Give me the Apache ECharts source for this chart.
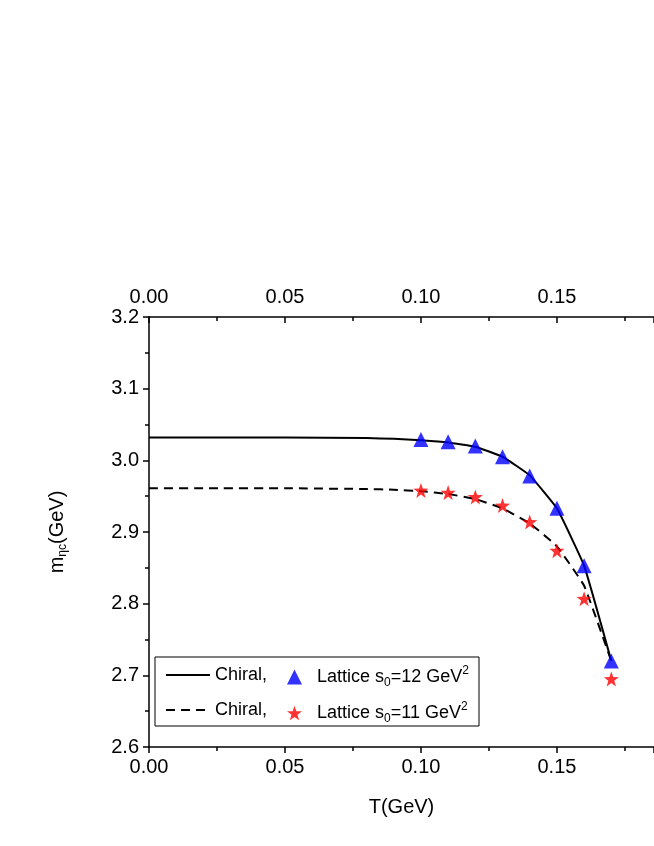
<!DOCTYPE html>
<html>
<head>
<meta charset="utf-8">
<script src="https://cdn.jsdelivr.net/npm/echarts@6/dist/echarts.min.js"></script>
<style>html,body{margin:0;padding:0;background:#fff}#chart{width:654px;height:846px}</style>
</head>
<body>
<div id="chart"></div>
<script>
let chiralT = [0, 0.02, 0.05, 0.08, 0.09, 0.10, 0.11, 0.12, 0.13, 0.14, 0.15, 0.16, 0.17];
let chiral12 = [3.032, 3.032, 3.032, 3.031, 3.030, 3.028, 3.025, 3.019, 3.005, 2.979, 2.933, 2.853, 2.720];
let chiral11 = [2.961, 2.961, 2.961, 2.960, 2.959, 2.957, 2.953, 2.946, 2.933, 2.912, 2.880, 2.825, 2.720];
let latticeT = [0.10, 0.11, 0.12, 0.13, 0.14, 0.15, 0.16, 0.17];
let lattice12 = [3.029, 3.026, 3.020, 3.005, 2.978, 2.933, 2.853, 2.720];
let lattice11 = [2.958, 2.955, 2.949, 2.937, 2.914, 2.874, 2.807, 2.695];

function pairs(xs, ys) {
    return xs.map(function (x, i) { return [x, ys[i]]; });
}

let font = 'Liberation Sans';
let rich = {
    sub: { fontSize: 12, verticalAlign: 'bottom', padding: [12, 0, 0, 0], fontFamily: font },
    sup: { fontSize: 12, verticalAlign: 'top', padding: [0, 0, 10, 0], fontFamily: font }
};

function xAxis(pos) {
    return {
        type: 'value', position: pos, min: 0, max: 0.1857, interval: 0.05,
        axisLine: { onZero: false, lineStyle: { color: '#000', width: 1.5 } },
        axisTick: { inside: pos === 'top', length: 6, lineStyle: { color: '#000', width: 1.5 } },
        minorTick: { show: true, splitNumber: 2, length: 4, lineStyle: { color: '#000', width: 1.5 } },
        axisLabel: {
            color: '#000', fontSize: 20, fontFamily: font, margin: 10, showMaxLabel: false,
            formatter: function (v) { return v.toFixed(2); }
        },
        splitLine: { show: false }
    };
}

let chart = echarts.init(document.getElementById('chart'));
let option = {
    animation: false,
    grid: { left: 149, right: 0, top: 317, bottom: 99 },
    xAxis: [
        Object.assign(xAxis('bottom'), {
            name: 'T(GeV)', nameLocation: 'middle', nameGap: 50,
            nameTextStyle: { color: '#000', fontSize: 20, fontFamily: font }
        }),
        xAxis('top')
    ],
    yAxis: {
        type: 'value', min: 2.6, max: 3.2, interval: 0.1,
        name: 'm{sub|ηc}(GeV)', nameLocation: 'middle', nameGap: 80, nameRotate: 90,
        nameTextStyle: { color: '#000', fontSize: 20, fontFamily: font, rich: rich },
        axisLine: { lineStyle: { color: '#000', width: 1.5 } },
        axisTick: { length: 6, lineStyle: { color: '#000', width: 1.5 } },
        minorTick: { show: true, splitNumber: 2, length: 4, lineStyle: { color: '#000', width: 1.5 } },
        axisLabel: {
            color: '#000', fontSize: 20, fontFamily: font, margin: 10,
            formatter: function (v) { return v.toFixed(1); }
        },
        splitLine: { show: false }
    },
    legend: [
        {
            orient: 'vertical', left: 160, top: 661, itemWidth: 44, itemHeight: 10, itemGap: 17,
            data: ['Chiral,', 'Chiral, '],
            itemStyle: { opacity: 0 },
            textStyle: { color: '#000', fontSize: 18, fontFamily: font }
        },
        {
            orient: 'vertical', left: 282, top: 660, itemWidth: 15, itemHeight: 15, itemGap: 12,
            data: ['L12', 'L11'],
            formatter: function (n) {
                return n === 'L12' ? '  Lattice s{sub|0}=12 GeV{sup|2}' : '  Lattice s{sub|0}=11 GeV{sup|2}';
            },
            textStyle: { color: '#000', fontSize: 18, fontFamily: font, rich: rich }
        }
    ],
    graphic: [{
        type: 'rect', shape: { x: 155, y: 657, width: 324, height: 69 },
        style: { fill: 'none', stroke: '#000', lineWidth: 1 }, z: 10
    }],
    series: [
        {
            name: 'Chiral,', type: 'line', smooth: 0.1, symbol: 'none',
            data: pairs(chiralT, chiral12), lineStyle: { color: '#000', width: 2 }, itemStyle: { color: '#000' }
        },
        {
            name: 'Chiral, ', type: 'line', smooth: 0.1, symbol: 'none',
            data: pairs(chiralT, chiral11), lineStyle: { color: '#000', width: 2, type: [9, 6] }, itemStyle: { color: '#000' }
        },
        {
            name: 'L12', type: 'scatter', symbol: 'triangle', symbolSize: 15,
            data: pairs(latticeT, lattice12), itemStyle: { color: '#0000ff' }, z: 5
        },
        {
            name: 'L11', type: 'scatter', symbol: 'path://M0,-10L2.35,-3.24L9.51,-3.09L3.8,1.24L5.88,8.09L0,4L-5.88,8.09L-3.8,1.24L-9.51,-3.09L-2.35,-3.24Z',
            symbolSize: 15, data: pairs(latticeT, lattice11), itemStyle: { color: '#ff0000' }, z: 5
        }
    ]
};
chart.setOption(option);
</script>
</body>
</html>
